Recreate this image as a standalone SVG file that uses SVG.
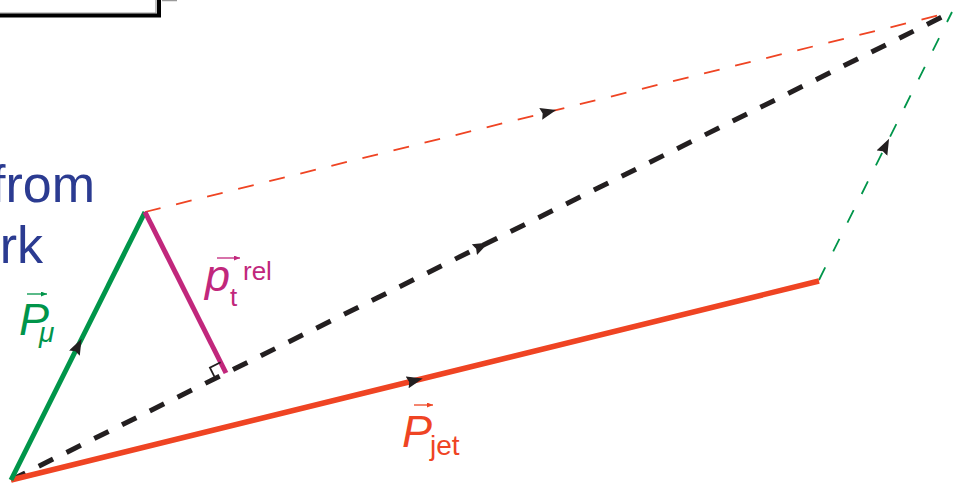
<svg xmlns="http://www.w3.org/2000/svg" width="965" height="487" viewBox="0 0 965 487">
<defs>
<style>
.lbl{font-family:"Liberation Sans",Arial,sans-serif}
.it{font-style:italic}
.blue{fill:#2B3B91}
.green{fill:#00954A}
.red{fill:#EF4423}
.mag{fill:#C1277C}
</style>
<marker id="ah" markerUnits="userSpaceOnUse" markerWidth="18" markerHeight="14" refX="8" refY="6" orient="auto">
<path d="M0,0 L16,6 L0,12 L2,6 Z" fill="#231F20"/>
</marker>
<marker id="vg" markerUnits="userSpaceOnUse" markerWidth="8" markerHeight="6" refX="6" refY="2.5" orient="auto">
<path d="M0,0 L6,2.5 L0,5 Z" fill="#00954A"/>
</marker>
<marker id="vm" markerUnits="userSpaceOnUse" markerWidth="8" markerHeight="6" refX="6" refY="2.5" orient="auto">
<path d="M0,0 L6,2.5 L0,5 Z" fill="#C1277C"/>
</marker>
<marker id="vr" markerUnits="userSpaceOnUse" markerWidth="8" markerHeight="6" refX="6" refY="2.5" orient="auto">
<path d="M0,0 L6,2.5 L0,5 Z" fill="#EF4423"/>
</marker>
</defs>
<rect width="965" height="487" fill="#ffffff"/>

<g id="frame">
<path d="M0,13 L156,13 L156,0 M162,0.6 L177,0.6" fill="none" stroke="#9a9a9a" stroke-width="1.2"/>
<path d="M0,15.5 L159,15.5 L159,0" fill="none" stroke="#000000" stroke-width="4"/>
</g>

<g id="title-text">
<text class="lbl blue" x="95" y="202" font-size="52" text-anchor="end">from</text>
<text class="lbl blue" x="43" y="263" font-size="52" text-anchor="end">rk</text>
</g>

<g id="connectors">
<path id="e-sum" d="M11,480 L481.5,246 L952,12" fill="none" stroke="#231F20" stroke-width="5" stroke-dasharray="16,15" marker-mid="url(#ah)"/>
<path id="e-jet-shift" d="M145,212 L548.5,112 L952,12" fill="none" stroke="#EF4423" stroke-width="1.8" stroke-dasharray="16,16" marker-mid="url(#ah)"/>
<path id="e-mu-shift" d="M819,280 L885.5,146 L952,12" fill="none" stroke="#00954A" stroke-width="1.8" stroke-dasharray="14,18" marker-mid="url(#ah)"/>
<path id="e-jet" d="M11,480 L415,380.5 L819,281" fill="none" stroke="#EF4423" stroke-width="5.5" marker-mid="url(#ah)"/>
<path id="e-mu" d="M11,480 L78,346 L145,212" fill="none" stroke="#00954A" stroke-width="5" marker-mid="url(#ah)"/>
<path id="e-ptrel" d="M145,212 L226,373" fill="none" stroke="#C1277C" stroke-width="5"/>
<path id="right-angle" d="M215.3,378.3 L209.9,367.6 L220.6,362.3" fill="none" stroke="#231F20" stroke-width="1.8"/>
</g>

<g id="label-pmu">
<path d="M27,294 L47,294" stroke="#00954A" stroke-width="1.3" marker-end="url(#vg)"/>
<text class="lbl it green" x="19" y="335" font-size="45">P</text>
<text class="lbl it green" x="39" y="342" font-size="28">μ</text>
</g>

<g id="label-ptrel">
<path d="M217,258 L240,258" stroke="#C1277C" stroke-width="1.3" marker-end="url(#vm)"/>
<text class="lbl it mag" x="205" y="291" font-size="45">p</text>
<text class="lbl mag" x="230" y="306" font-size="26">t</text>
<text class="lbl mag" x="243" y="280" font-size="26">rel</text>
</g>

<g id="label-pjet">
<path d="M414,405 L433,405" stroke="#EF4423" stroke-width="1.3" marker-end="url(#vr)"/>
<text class="lbl it red" x="402" y="447" font-size="45">P</text>
<text class="lbl red" x="430" y="455" font-size="28">jet</text>
</g>
</svg>
